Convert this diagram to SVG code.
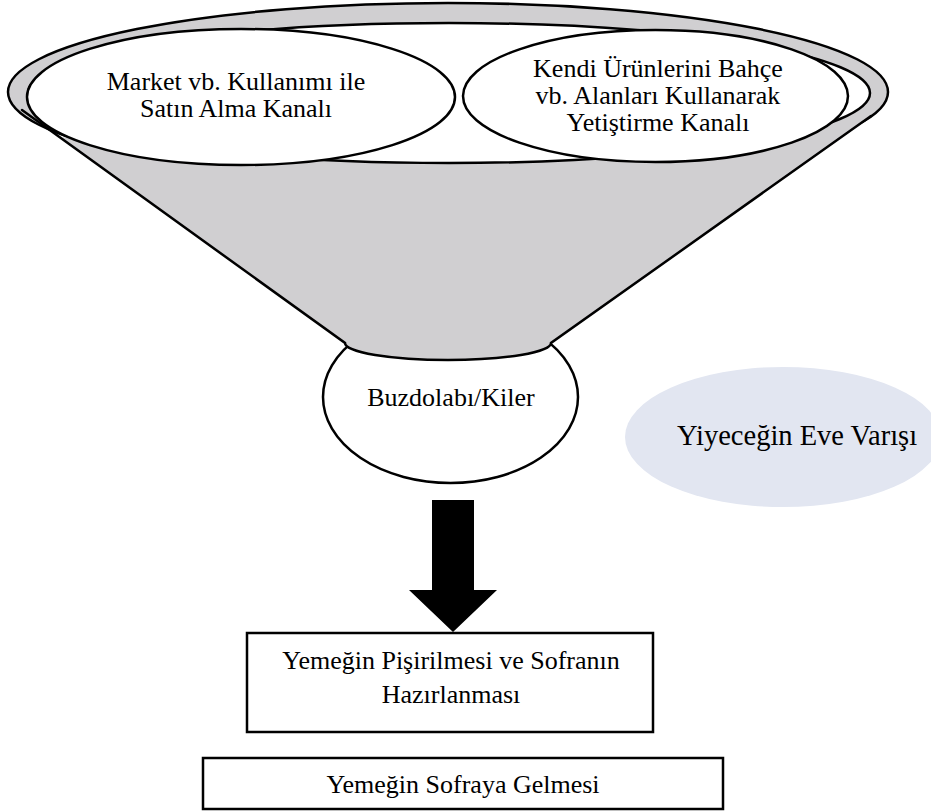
<svg xmlns="http://www.w3.org/2000/svg" width="931" height="812" viewBox="0 0 931 812">
<style>
text{font-family:'Liberation Serif','Times New Roman','DejaVu Serif',serif;font-size:26px;fill:#000;text-anchor:middle}
.o{stroke:#000;stroke-width:2.5;fill:#fff}
.g{fill:#D0CFD1}
.ln{stroke:#000;stroke-width:2.5;fill:none;stroke-linecap:round}
</style>
<rect width="931" height="812" fill="#fff"/>
<g id="eve-varisi">
<ellipse cx="783" cy="437" rx="158" ry="70" fill="#E2E6F1"/>
<text x="677" y="445" font-family="Liberation Serif, serif" style="text-anchor:start;font-size:28.5px">Yiyeceğin Eve Varışı</text>
</g>
<g id="buzdolabi">
<ellipse class="o" cx="450.5" cy="397" rx="127.5" ry="86"/>
<text x="451" y="406" font-family="Liberation Serif, serif">Buzdolabı/Kiler</text>
</g>
<g id="funnel">
<ellipse cx="448" cy="92" rx="440" ry="89" class="g" stroke="#000" stroke-width="2.5"/>
<path class="g" d="M60,137.4 L345,343 A103,17 0 0 0 551,343 L871,116 Z"/>
<path class="ln" d="M22,110 L345,343 A103,17 0 0 0 551,343 L871,116"/>
<ellipse class="o" cx="449" cy="93" rx="421" ry="70"/>
</g>
<g id="market">
<ellipse class="o" cx="241" cy="97" rx="214" ry="68"/>
<text x="236" y="90" font-family="Liberation Serif, serif">Market vb. Kullanımı ile</text>
<text x="236" y="117" font-family="Liberation Serif, serif">Satın Alma Kanalı</text>
</g>
<g id="kendi">
<ellipse class="o" cx="655.5" cy="96" rx="192.5" ry="66"/>
<text x="658" y="77" font-family="Liberation Serif, serif">Kendi Ürünlerini Bahçe</text>
<text x="658" y="104" font-family="Liberation Serif, serif">vb. Alanları Kullanarak</text>
<text x="658" y="131" font-family="Liberation Serif, serif">Yetiştirme Kanalı</text>
</g>
<g id="connectors">
<path d="M432,500 H474 V590 H497 L453,632 L409,590 H432 Z" fill="#000"/>
</g>
<g id="pisirme">
<rect class="o" x="247" y="633" width="406" height="99"/>
<text x="451" y="669" font-family="Liberation Serif, serif">Yemeğin Pişirilmesi ve Sofranın</text>
<text x="451" y="703" font-family="Liberation Serif, serif">Hazırlanması</text>
</g>
<g id="sofraya">
<rect class="o" x="203" y="758" width="520" height="51"/>
<text x="463" y="793" font-family="Liberation Serif, serif">Yemeğin Sofraya Gelmesi</text>
</g>
</svg>
